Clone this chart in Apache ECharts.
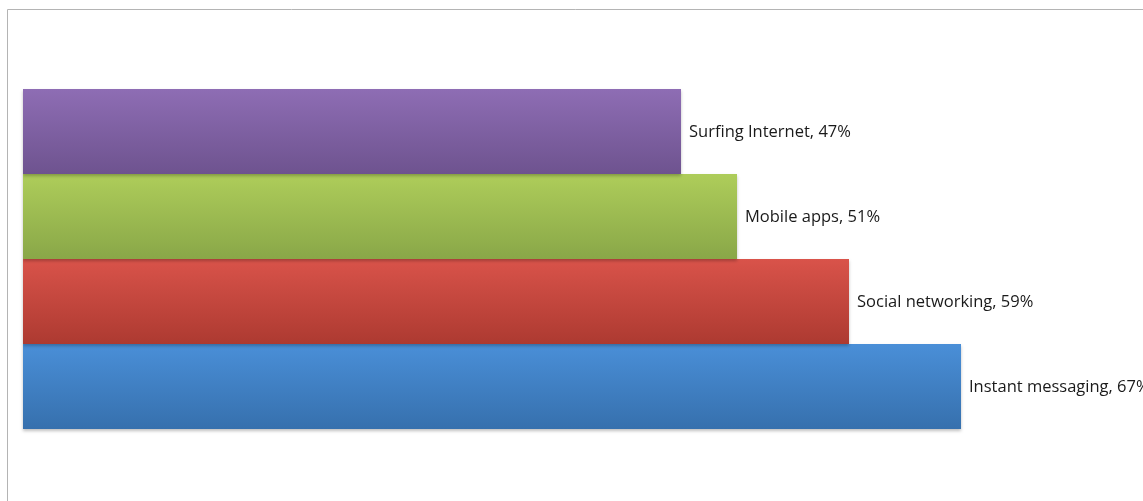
<!DOCTYPE html>
<html>
<head>
<meta charset="utf-8">
<style>
  html, body { margin: 0; padding: 0; background: #ffffff; }
  #chart { width: 1143px; height: 501px; }
</style>
<script src="https://cdn.jsdelivr.net/npm/echarts@6/dist/echarts.min.js"></script>
</head>
<body>
<div id="chart"></div>
<script>
// Activities, listed from the bottom bar upward
const categories = ['Instant messaging', 'Social networking', 'Mobile apps', 'Surfing Internet'];
const values = [67, 59, 51, 47];
// Top and bottom shades of each bar's vertical gradient
const topColors = ['#4a8fd8', '#d9534a', '#aecd5a', '#8e6db4'];
const bottomColors = ['#3670ad', '#ad3a31', '#89a748', '#6e538f'];

const chart = echarts.init(document.getElementById('chart'), null, { renderer: 'canvas' });

const barData = values.map((v, i) => ({
  value: v,
  itemStyle: {
    color: new echarts.graphic.LinearGradient(0, 0, 0, 1, [
      { offset: 0, color: topColors[i] },
      { offset: 1, color: bottomColors[i] }
    ]),
    shadowColor: 'rgba(0,0,0,0.25)',
    shadowBlur: 3,
    shadowOffsetY: 2
  }
}));

chart.setOption({
  animation: false,
  graphic: [{
    type: 'rect',
    shape: { x: 7.5, y: 9.5, width: 1300, height: 700 },
    style: { fill: 'none', stroke: '#b4b4b4', lineWidth: 1 },
    z: -1
  }],
  grid: { left: 23, top: 89, width: 1120, height: 340, containLabel: false },
  xAxis: {
    type: 'value', min: 0, max: 80,
    show: false
  },
  yAxis: {
    type: 'category', data: categories,
    show: false
  },
  series: [{
    type: 'bar',
    data: barData,
    barCategoryGap: 0,
    label: {
      show: true,
      position: 'right',
      distance: 8,
      offset: [0, 1],
      formatter: p => p.name + ', ' + p.value + '%',
      color: '#1a1a1a',
      fontFamily: 'Open Sans',
      fontSize: 16.5
    }
  }]
});
</script>
</body>
</html>
